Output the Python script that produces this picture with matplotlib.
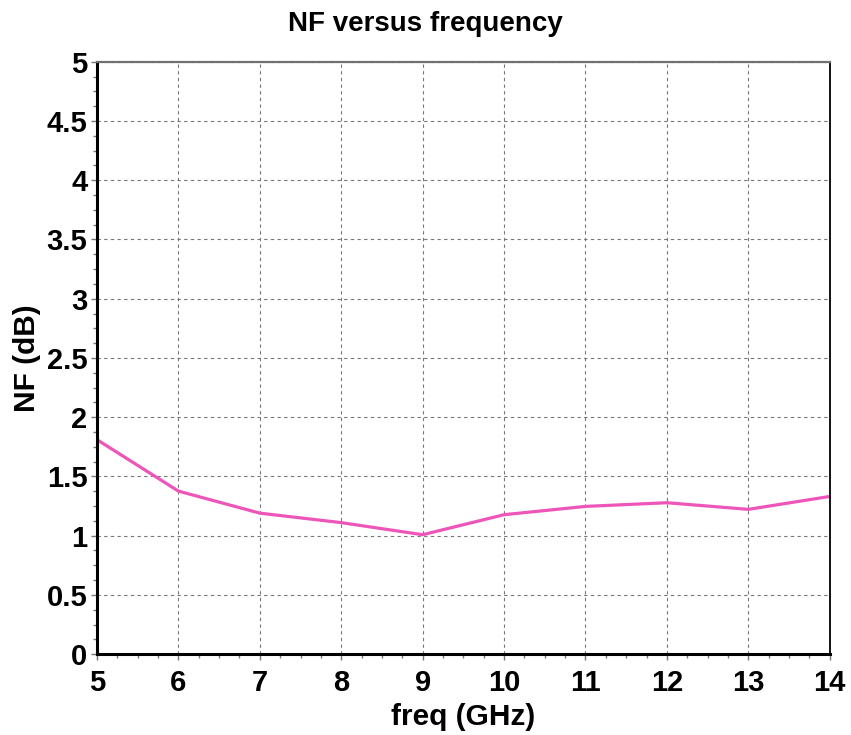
import matplotlib.pyplot as plt
from matplotlib.ticker import MultipleLocator

freq = [5, 6, 7, 8, 9, 10, 11, 12, 13, 14]
nf = [1.81, 1.376, 1.19, 1.11, 1.008, 1.177, 1.247, 1.278, 1.222, 1.331]

plt.rcParams["font.family"] = ["Liberation Sans", "DejaVu Sans"]
plt.rcParams["font.weight"] = "bold"

fig = plt.figure(figsize=(8.51, 7.35), dpi=100)
ax = fig.add_axes([0.114, 0.110, 0.861, 0.806])

ax.plot(freq, nf, color="#ee55b9", lw=2.3)

ax.set_xlim(5, 14)
ax.set_ylim(0, 5)
ax.xaxis.set_major_locator(MultipleLocator(1))
ax.xaxis.set_minor_locator(MultipleLocator(0.25))
ax.yaxis.set_minor_locator(MultipleLocator(0.125))
ax.set_yticks([0, 0.5, 1, 1.5, 2, 2.5, 3, 3.5, 4, 4.5, 5])
ax.set_yticklabels(["0", "0.5", "1", "1.5", "2", "2.5", "3", "3.5", "4", "4.5", "5"])

ax.grid(True, which="major", ls=(0, (3, 3)), color="#777777", lw=0.8)
ax.tick_params(which="major", length=4, width=1, color="#777777", labelsize=21)
ax.tick_params(axis="x", which="major", pad=7)
ax.tick_params(axis="y", which="major", pad=3)
ax.tick_params(which="minor", length=3, width=1, color="#777777")

for s in ["left", "bottom"]:
    ax.spines[s].set_linewidth(2.2)
    ax.spines[s].set_color("black")
ax.spines["top"].set_linewidth(1.6)
ax.spines["top"].set_color("#707070")
ax.spines["right"].set_linewidth(1.3)
ax.spines["right"].set_color("black")

fig.text(0.5, 1 - 31 / 735, "NF versus frequency", fontsize=20, fontweight="bold",
         ha="center", va="baseline")
ax.set_xlabel("freq (GHz)", fontsize=21.5, fontweight="bold", labelpad=4)
ax.set_ylabel("NF (dB)", fontsize=21.5, fontweight="bold", labelpad=4)

fig.savefig("out.png", dpi=100)
